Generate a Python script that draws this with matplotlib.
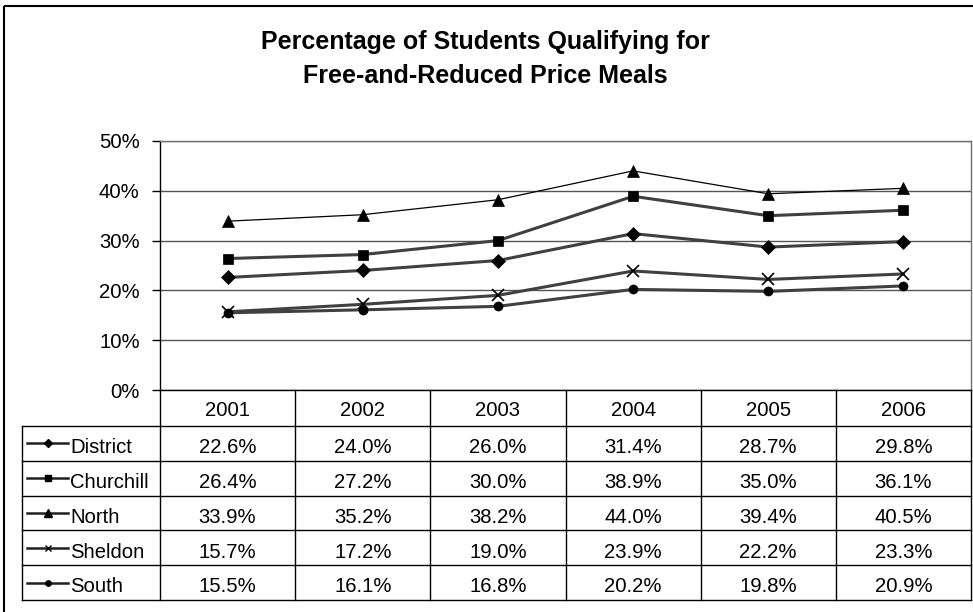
import numpy as np
import matplotlib
matplotlib.use("Agg")
import matplotlib.pyplot as plt
from matplotlib.lines import Line2D
from matplotlib.patches import Rectangle
from matplotlib.ticker import PercentFormatter
import matplotlib.transforms as mtransforms

plt.rcParams['font.family'] = ['Liberation Sans', 'DejaVu Sans']

years = ['2001', '2002', '2003', '2004', '2005', '2006']
schools = ['District', 'Churchill', 'North', 'Sheldon', 'South']
district = [22.6, 24.0, 26.0, 31.4, 28.7, 29.8]
churchill = [26.4, 27.2, 30.0, 38.9, 35.0, 36.1]
north = [33.9, 35.2, 38.2, 44.0, 39.4, 40.5]
sheldon = [15.7, 17.2, 19.0, 23.9, 22.2, 23.3]
south = [15.5, 16.1, 16.8, 20.2, 19.8, 20.9]
series = [district, churchill, north, sheldon, south]

# style per school: marker, size, line colour, line width
styles = {
    'District':  dict(marker='D', ms=7.5, color='#404040', lw=2.2, mew=0.5),
    'Churchill': dict(marker='s', ms=7.5, color='#404040', lw=2.2, mew=0.5),
    'North':     dict(marker='^', ms=9, color='black', lw=0.9, mew=0.5),
    'Sheldon':   dict(marker='x', ms=8, color='#404040', lw=2.2, mew=1.2),
    'South':     dict(marker='o', ms=6.5, color='#404040', lw=2.2, mew=0.5),
}

W, H = 973, 612
fs = 14.6
fig = plt.figure(figsize=(W / 100, H / 100), dpi=100)
px = mtransforms.Affine2D().scale(1 / W, -1 / H).translate(0, 1) + fig.transFigure

# plot area in pixels
left, right, top, bottom = 160, 971, 141, 390
ax = fig.add_axes([left / W, 1 - bottom / H, (right - left) / W, (bottom - top) / H])
x = np.arange(len(years))
for name, vals in zip(schools, series):
    st = styles[name]
    ax.plot(x, vals, color=st['color'], lw=st['lw'], marker=st['marker'],
            ms=st['ms'], mfc='black', mec='black', mew=st['mew'], zorder=3)

ax.set_xlim(-0.5, len(years) - 0.5)
ax.set_ylim(0, 50)
ax.set_yticks(np.arange(0, 51, 10))
ax.yaxis.set_major_formatter(PercentFormatter(decimals=0))
ax.set_xticks([])
ax.grid(axis='y', color='#555555', lw=1)
ax.tick_params(axis='y', length=6, width=1, pad=8.6, labelsize=fs, colors='black')
for s in ['top', 'right']:
    ax.spines[s].set_color('#707070')
    ax.spines[s].set_linewidth(1)
ax.spines['left'].set_linewidth(1)
ax.spines['bottom'].set_linewidth(1)

# data table under the plot
col_tr = mtransforms.blended_transform_factory(ax.transData, px)
header_bot = 426
row_h = 34.8
tab_left = 22
row_edges = [header_bot + i * row_h for i in range(len(schools) + 1)]
tab_bot = row_edges[-1]

for i in range(len(years) + 1):
    fig.add_artist(Line2D([i - 0.5, i - 0.5], [bottom, tab_bot], color='black',
                          lw=1, transform=col_tr))
for y in row_edges:
    fig.add_artist(Line2D([tab_left, right], [y, y], color='black', lw=1, transform=px))
fig.add_artist(Line2D([tab_left, tab_left], [header_bot, tab_bot], color='black',
                      lw=1, transform=px))

for i, yr in enumerate(years):
    fig.text(i, 416, yr, transform=col_tr, ha='center', va='baseline', fontsize=fs)

for r, (name, vals) in enumerate(zip(schools, series)):
    yc = row_edges[r] + row_h / 2
    base = row_edges[r] + 27.3
    for i, v in enumerate(vals):
        fig.text(i, base, f'{v:.1f}%', transform=col_tr, ha='center', va='baseline',
                 fontsize=fs)
    st = styles[name]
    fig.add_artist(Line2D([27, 68], [yc, yc], color='#202020', lw=1.8, transform=px))
    fig.add_artist(Line2D([47.5], [yc], marker=st['marker'], ms=st['ms'] * 0.6,
                          mfc='black', mec='black', mew=1, lw=0, transform=px))
    fig.text(70, base, name, transform=px, ha='left', va='baseline', fontsize=fs)

# title
fig.text(485, 49, 'Percentage of Students Qualifying for', transform=px,
         ha='center', va='baseline', fontsize=18, fontweight='bold')
fig.text(485, 83, 'Free-and-Reduced Price Meals', transform=px,
         ha='center', va='baseline', fontsize=18, fontweight='bold')

# chart frame
fig.add_artist(Rectangle((4, 6), 1000, 700, fill=False, ec='black', lw=1.5,
                         transform=px))

fig.savefig('out.png', dpi=100)
